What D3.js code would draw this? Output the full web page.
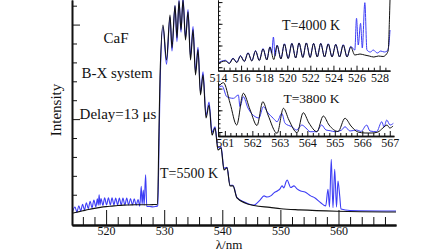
<!DOCTYPE html>
<html>
<head>
<meta charset="utf-8">
<script src="https://cdn.jsdelivr.net/npm/d3@7"></script>
<style>
  body { margin: 0; background: #fff; }
  svg { display: block; }
  text { font-family: "Liberation Serif", "Times New Roman", serif; fill: #111; }
</style>
</head>
<body>
<div id="chart"></div>
<script>
// spectra: [wavelength nm, intensity arb. units]
const mainBlack = [[514.13,0.02],[515,0.08],[516,0.15],[517,0.22],[518,0.28],[519,0.33],[520,0.37],[521,0.4],[522,0.43],[523,0.45],[524,0.46],[525,0.47],[526,0.47],[527,0.47],[528,0.48],[528.85,0.5],[529.1,4.43],[529.28,7.23],[529.79,9.98],[530.4,8.13],[531.0,10.51],[531.34,8.77],[531.86,10.99],[532.2,9.3],[532.55,11.25],[532.89,9.72],[533.24,11.3],[533.67,9.19],[534.1,10.67],[534.53,8.13],[534.96,9.72],[535.39,7.34],[535.82,8.66],[536.25,6.28],[536.68,7.34],[537.2,5.06],[537.72,5.75],[538.23,4.16],[538.75,4.53],[539.26,3.37],[539.78,3.48],[540.29,2.31],[540.81,2.42],[541.33,1.47],[541.84,1.47],[542.53,0.83],[543.91,0.57],[545.46,0.43],[548.21,0.33],[550.1,0.26],[553.37,0.2],[559.74,0.13],[569.9,0.09]];

const mainBlue = [[514.13,0.02],[514.65,0.35],[514.98,0.08],[515.3,0.42],[515.63,0.14],[515.95,0.5],[516.28,0.2],[516.6,0.58],[516.93,0.26],[517.25,0.66],[517.58,0.31],[517.9,0.72],[518.23,0.36],[518.5,0.78],[518.65,0.45],[518.8,1.0],[518.95,0.45],[519.12,0.8],[519.45,0.44],[519.75,0.84],[520.08,0.46],[520.4,0.84],[520.73,0.46],[521.02,0.84],[521.35,0.46],[521.65,0.83],[521.98,0.46],[522.28,0.83],[522.6,0.46],[522.9,0.82],[523.23,0.46],[523.55,0.82],[523.88,0.46],[524.2,0.8],[524.53,0.46],[524.85,0.78],[525.18,0.45],[525.5,0.75],[525.8,0.4],[526.05,1.45],[526.2,0.5],[526.4,1.25],[526.55,0.45],[526.8,2.05],[527.0,0.38],[527.5,0.38],[528.0,0.36],[528.5,0.38],[528.9,0.42],
  [529.1,3.5],[529.28,6.6],[529.79,9.9],[530.4,7.9],[531.0,10.4],[531.34,8.6],[531.86,11.0],[532.2,9.1],[532.55,11.3],[532.89,9.6],[533.24,11.4],[533.67,9.3],[534.1,10.8],[534.53,8.3],[534.96,9.9],[535.39,7.5],[535.82,8.8],[536.25,6.4],[536.68,7.5],[537.2,5.2],[537.72,5.9],[538.23,4.3],[538.75,4.6],[539.26,3.5],[539.78,3.55],[540.29,2.4],[540.81,2.45],[541.33,1.5],[541.84,1.5],[542.53,0.85],[543.91,0.6],[545.46,0.45],
  [545.75,0.5],[546.49,0.72],[547.18,0.94],[547.69,0.88],[548.33,0.94],[548.9,1.1],[549.47,1.2],[549.93,1.31],[550.28,1.47],[550.62,1.36],[550.96,1.68],[551.19,1.78],[551.48,1.57],[551.77,1.38],[552.34,1.47],[552.86,1.31],[553.49,1.2],[554.23,1.15],[555.22,0.94],[555.96,0.83],[556.94,0.58],[557.8,0.41],[558.19,1.29],[558.45,0.35],[558.76,2.88],[559.05,0.32],[559.35,2.35],[559.66,0.35],[559.91,1.73],[560.21,0.94],[560.43,0.25],[561.98,0.17],[569.9,0.14]];

// inset T=4000 K
const inset1Black = [[514.0,0.85],[514.65,1.43],[514.98,0.85],[515.3,2.0],[515.63,1.08],[515.95,2.58],[516.28,1.31],[516.6,3.27],[516.93,1.43],[517.25,3.73],[517.58,1.54],[517.9,4.19],[518.23,1.66],[518.5,4.65],[518.83,1.77],[519.12,5.0],[519.45,1.89],[519.75,5.35],[520.08,2.0],[520.4,5.46],[520.73,2.12],[521.02,5.58],[521.35,2.24],[521.65,5.58],[521.98,2.24],[522.28,5.46],[522.6,2.35],[522.9,5.46],[523.23,2.35],[523.55,5.35],[523.88,2.35],[524.2,5.23],[524.53,2.35],[524.85,5.12],[525.18,2.35],[525.5,4.65],[525.85,2.81],[526.3,3.04],[526.7,2.81],[527.1,2.58],[527.5,2.35],[527.9,2.58],[528.3,2.47],[528.6,3.04],[528.75,3.96],[528.85,10.9],[528.9,15.5]];

const inset1Blue = [[514.0,1.0],[514.65,1.6],[514.98,0.95],[515.3,2.1],[515.63,1.15],[515.95,2.7],[516.28,1.35],[516.6,3.35],[516.93,1.5],[517.25,3.8],[517.58,1.6],[517.9,4.3],[518.23,1.75],[518.5,4.7],[518.65,3.2],[518.8,6.96],[518.95,2.6],[519.12,5.1],[519.45,1.95],[519.75,5.4],[520.08,2.05],[520.4,5.5],[520.73,2.15],[521.02,5.6],[521.35,2.3],[521.65,5.6],[521.98,2.3],[522.28,5.5],[522.6,2.4],[522.9,5.5],[523.23,2.4],[523.55,5.4],[523.88,2.4],[524.2,5.3],[524.53,2.4],[524.85,5.2],[525.18,2.4],[525.5,4.8],[525.85,3.96],[526.0,11.27],[526.15,5.12],[526.35,10.1],[526.5,4.42],[526.72,14.86],[526.9,3.96],[527.2,3.5],[527.45,3.96],[527.8,3.27],[528.1,3.73],[528.4,3.5],[528.65,3.73],[528.8,5.12],[528.9,8.57]];

// inset T=3800 K
const inset2Black = [[560.75,10.37],[560.95,11.36],[561.19,6.61],[561.43,1.61],[561.67,8.92],[561.92,5.07],[562.17,1.5],[562.38,6.98],[562.57,3.92],[562.9,-0.3],[563.13,5.46],[563.33,2.76],[563.63,-0.16],[563.85,4.45],[564.06,2.07],[564.35,0.07],[564.58,3.69],[564.79,1.61],[565.12,0.12],[565.37,3.16],[565.59,1.38],[565.84,0],[566.1,-0.23],[566.35,-0.23],[566.57,0],[566.75,0.92],[566.9,1.61],[567.0,0.92],[567.12,1.38]];

const inset2Blue = [[560.75,10.14],[560.9,10.6],[561.07,8.13],[561.31,7.76],[561.49,8.53],[561.55,5.83],[561.67,8.13],[561.84,5.53],[562.1,3.53],[562.24,3.23],[562.4,5.83],[562.57,4.38],[562.76,3.16],[562.9,2.37],[563.07,4.31],[563.19,2.0],[563.43,1.22],[563.61,0.46],[563.8,1.61],[563.95,0.92],[564.1,0.07],[564.34,0.07],[564.52,1.61],[564.68,0.46],[564.83,0.3],[565.01,0.07],[565.25,0.46],[565.37,1.22],[565.55,0.23],[565.8,0.46],[565.95,0.12],[566.16,1.61],[566.28,0.23],[566.52,0.07],[566.71,2.37],[566.79,1.15],[566.89,2.76],[567.01,1.61],[567.13,2.0]];

// ticks
const mainMajorTicks = [520, 530, 540, 550, 560];
const mainMinorTicks = [516, 518, 522, 524, 526, 528, 532, 534, 536, 538, 542, 544, 546, 548, 552, 554, 556, 558, 562, 564, 566, 568];
const mainYMinor = [1, 2, 3, 4, 6, 7, 8, 9, 11];
const mainYMajor = [5, 10];
const inset1Labels = [514, 516, 518, 520, 522, 524, 526, 528];
const inset2Labels = [561, 562, 563, 564, 565, 566, 567];
const inset1Step = 0.5, inset2Step = 0.2;

const BLUE = '#3d3df5', BLACK = '#111';

const svg = d3.select('#chart').append('svg').attr('width', 448).attr('height', 252);
const defs = svg.append('defs');
function clip(id, x, y, w, h) {
  defs.append('clipPath').attr('id', id).append('rect').attr('x', x).attr('y', y).attr('width', w).attr('height', h);
  return `url(#${id})`;
}

function drawLines(x, y, series, clipUrl) {
  const line = d3.line().x((d) => x(d[0])).y((d) => y(d[1])).curve(d3.curveMonotoneX);
  const g = svg.append('g').attr('clip-path', clipUrl);
  series.forEach(([data, color, w]) => {
    g.append('path').datum(data).attr('d', line)
      .attr('fill', 'none').attr('stroke', color).attr('stroke-width', w).attr('stroke-linejoin', 'round');
  });
}

function styleAxis(g, w) {
  g.selectAll('path.domain').attr('stroke', BLACK).attr('stroke-width', w);
  g.selectAll('.tick line').attr('stroke', BLACK).attr('stroke-width', 1);
  g.selectAll('text').attr('fill', BLACK).attr('font-family', '"Liberation Serif", serif');
}

// ---- main plot
const x = d3.scaleLinear().domain([514.13, 569.9]).range([72, 396]);
const y = d3.scaleLinear().domain([-0.6, 11.3]).range([225, 0]);

drawLines(x, y, [[mainBlue, BLUE, 1.1], [mainBlack, BLACK, 1.1]], clip('cMain', 72, 0, 324, 225));

svg.append('g').attr('transform', 'translate(0,225)')
  .call(d3.axisBottom(x).tickValues(mainMinorTicks).tickSize(-8).tickSizeOuter(0).tickFormat(''))
  .call((g) => styleAxis(g, 2));
svg.append('g').attr('transform', 'translate(0,225)')
  .call(d3.axisBottom(x).tickValues(mainMajorTicks).tickSize(-15).tickSizeOuter(0).tickPadding(1.3).tickFormat(d3.format('d')))
  .call((g) => { styleAxis(g, 2); g.selectAll('text').attr('font-size', 12); });

svg.append('g').attr('transform', 'translate(72,0)')
  .call(d3.axisRight(y).tickValues(mainYMinor).tickSize(5).tickSizeOuter(0).tickFormat(''))
  .call((g) => styleAxis(g, 1.6));
svg.append('g').attr('transform', 'translate(72,0)')
  .call(d3.axisRight(y).tickValues(mainYMajor).tickSize(8).tickSizeOuter(0).tickFormat(''))
  .call((g) => styleAxis(g, 1.6));

// ---- inset 1
const x1 = d3.scaleLinear().domain([514, 528.9]).range([218, 390]);
const y1 = d3.scaleLinear().domain([-0.8, 15.48]).range([70.7, 0]);
drawLines(x1, y1, [[inset1Blue, BLUE, 1], [inset1Black, BLACK, 1]], clip('cIn1', 218, 0, 173, 70.7));

const in1Minor = d3.range(514, 528.9, inset1Step).filter((v) => !inset1Labels.includes(v));
svg.append('g').attr('transform', 'translate(0,70.7)')
  .call(d3.axisBottom(x1).tickValues(in1Minor).tickSize(-3).tickSizeOuter(0).tickFormat(''))
  .call((g) => styleAxis(g, 1.3));
svg.append('g').attr('transform', 'translate(0,70.7)')
  .call(d3.axisBottom(x1).tickValues(inset1Labels).tickSize(-5).tickSizeOuter(0).tickPadding(3).tickFormat(d3.format('d')))
  .call((g) => { styleAxis(g, 1.3); g.selectAll('text').attr('font-size', 12); });
svg.append('g').attr('transform', 'translate(218,0)')
  .call(d3.axisRight(y1).tickValues(d3.range(0, 16)).tickSize(2.5).tickSizeOuter(0).tickFormat(''))
  .call((g) => styleAxis(g, 1));
svg.append('g').attr('transform', 'translate(218,0)')
  .call(d3.axisRight(y1).tickValues([0, 5, 10, 15]).tickSize(4.5).tickSizeOuter(0).tickFormat(''))
  .call((g) => styleAxis(g, 1));

// ---- inset 2
const x2 = d3.scaleLinear().domain([560.75, 567.15]).range([218, 393.9]);
const y2 = d3.scaleLinear().domain([-0.92, 11.52]).range([136, 82]);
drawLines(x2, y2, [[inset2Blue, BLUE, 1], [inset2Black, BLACK, 1]], clip('cIn2', 218, 80, 176, 56));

const in2Minor = d3.range(560.8, 567.1, inset2Step).map((v) => +v.toFixed(1)).filter((v) => !inset2Labels.includes(v));
svg.append('g').attr('transform', 'translate(0,136)')
  .call(d3.axisBottom(x2).tickValues(in2Minor).tickSize(-3).tickSizeOuter(0).tickFormat(''))
  .call((g) => styleAxis(g, 1.3));
svg.append('g').attr('transform', 'translate(0,136)')
  .call(d3.axisBottom(x2).tickValues(inset2Labels).tickSize(-5).tickSizeOuter(0).tickPadding(2).tickFormat(d3.format('d')))
  .call((g) => { styleAxis(g, 1.3); g.selectAll('text').attr('font-size', 12); });
svg.append('g').attr('transform', 'translate(218,0)')
  .call(d3.axisRight(y2).tickValues(d3.range(0, 12)).tickSize(2.5).tickSizeOuter(0).tickFormat(''))
  .call((g) => styleAxis(g, 1));
svg.append('g').attr('transform', 'translate(218,0)')
  .call(d3.axisRight(y2).tickValues([0, 5, 10]).tickSize(4.5).tickSizeOuter(0).tickFormat(''))
  .call((g) => styleAxis(g, 1));

// ---- text
const label = (t, px, py, size, anchor = 'middle') => svg.append('text')
  .attr('x', px).attr('y', py).attr('font-size', size).attr('text-anchor', anchor).text(t);

label('CaF', 116, 43, 15);
label('B-X system', 117, 78, 15);
label('Delay=13 μs', 118, 119, 15);
label('T=5500 K', 160, 178, 14, 'start');
label('T=4000 K', 311, 30, 14);
label('T=3800 K', 311.5, 103, 13.5);
label('λ/nm', 229, 249.2, 13);
svg.append('text').attr('transform', 'translate(61,110) rotate(-90)')
  .attr('font-size', 15).attr('text-anchor', 'middle').text('Intensity');
</script>
</body>
</html>
